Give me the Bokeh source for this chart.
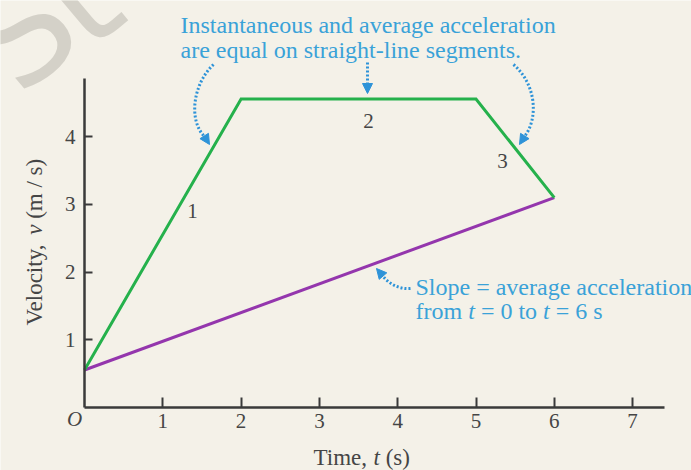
from bokeh.plotting import figure
from bokeh.models import LinearAxis, FixedTicker, Label, Arrow, NormalHead
from bokeh.embed import file_html
from bokeh.resources import INLINE

# ---- data -------------------------------------------------------------
time_s = [0, 2, 5, 6]                 # s
velocity = [0.55, 4.56, 4.56, 3.1]    # m/s
avg_time = [0, 6]
avg_velocity = [0.55, 3.1]
x_ticks = [1, 2, 3, 4, 5, 6, 7]
y_ticks = [1, 2, 3, 4]

# ---- layout / style ---------------------------------------------------
W, H = 691, 470
X0_PX, Y0_PX = 84.0, 406.7      # where the origin sits on the page
PX_PER_S, PX_PER_MS = 78.3, 67.6
BASELINE_FIX = 6.5              # alphabetic baseline lands a bit low in svg

BG = "#f4f1e8"
AXIS = "#3a3a3a"
TXT = "#454545"
GREEN = "#25b14c"
PURPLE = "#9436ad"
BLUE = "#3aa2d8"
DOT = "#2e93d8"
SERIF = "Liberation Serif"


def dx(px):
    return (px - X0_PX) / PX_PER_S


def dy(py):
    return (Y0_PX - py) / PX_PER_MS


p = figure(width=W, height=H,
           x_range=(dx(0), dx(W)), y_range=(dy(H), dy(0)),
           x_axis_type=None, y_axis_type=None,
           toolbar_location=None, output_backend="svg",
           min_border=0, background_fill_color=BG, border_fill_color=BG,
           outline_line_color=None)

# faint watermark letters in the corner
for letter, cx, cy in [("S", 22, 32), ("t", 78, -2)]:
    p.add_layout(Label(x=dx(cx), y=dy(cy), text=letter, angle=40,
                       angle_units="deg", text_align="center",
                       text_baseline="middle",
                       text_font="DejaVu Sans",
                       text_font_size="140px", text_color="#d4d1c8"))

# ---- axes through the origin --------------------------------------------
common = dict(fixed_location=0, major_tick_out=0,
              minor_tick_line_color=None,
              axis_line_color=AXIS, axis_line_width=2.5,
              major_tick_line_color=AXIS, major_tick_line_width=2,
              major_label_text_font=SERIF, major_label_text_font_size="21px",
              major_label_text_color=TXT)
xaxis = LinearAxis(bounds=(0, 7.41), ticker=FixedTicker(ticks=x_ticks),
                   major_tick_in=10, major_label_standoff=7, **common)
yaxis = LinearAxis(bounds=(0, 4.86), ticker=FixedTicker(ticks=y_ticks),
                   major_tick_in=8, major_label_standoff=9, **common)
p.add_layout(xaxis, "below")
p.add_layout(yaxis, "left")


def text_label(text, xp, yp, size, color=TXT, italic=False, align="left",
               angle=0):
    if not angle:
        yp -= BASELINE_FIX
    p.add_layout(Label(x=dx(xp), y=dy(yp), text=text, text_align=align,
                       text_baseline="middle" if angle else "alphabetic",
                       angle=angle, angle_units="deg",
                       text_font=SERIF, text_font_size=f"{size}px",
                       text_font_style="italic" if italic else "normal",
                       text_color=color))


# origin mark
text_label("O", 74, 425, 21, italic=True, align="center")

# axis titles (with italic symbols); widths are in 1/1000 em
def pieces(parts, x_px, y_px, size, vertical=False):
    pos = 0.0
    for text, italic, width in parts:
        if vertical:
            text_label(text, x_px, y_px - pos, size, italic=italic, angle=90)
        else:
            text_label(text, x_px + pos, y_px, size, italic=italic)
        pos += width * size / 1000.0

pieces([("Time,", False, 2611), ("t", True, 528), ("(s)", False, 1055)],
       313, 463.5, 23)
pieces([("Velocity,", False, 3944), ("v", True, 694), ("(m / s)", False, 2611)],
       34, 325, 23, vertical=True)

# ---- data lines ------------------------------------------------------------
p.line(avg_time, avg_velocity, line_color=PURPLE, line_width=3)
p.line(time_s, velocity, line_color=GREEN, line_width=3, line_join="miter")

# segment numbers
for txt, xp, yp in [("1", 192, 216.7), ("2", 368, 126.7), ("3", 502, 166.7)]:
    text_label(txt, xp, yp, 21, align="center")

# ---- callouts ----------------------------------------------------------------
for txt, xp, yp, it in [
    ("Instantaneous and average acceleration", 180, 30.5, False),
    ("are equal on straight-line segments.", 180, 55.5, False),
    ("Slope = average acceleration", 415, 293, False),
    ("from", 415, 316.7, False),
    ("t", 467.7, 316.7, True),
    ("= 0 to", 480.4, 316.7, False),
    ("t", 542.6, 316.7, True),
    ("= 6 s", 555.3, 316.7, False),
]:
    text_label(txt, xp, yp, 24, color=BLUE, italic=it)

# dotted curved pointers: (start, control 0, control 1, end) in page pixels
curves = [
    ((213, 64), (192, 84), (188, 120), (204, 136)),
    ((367, 62), (367, 70), (367, 78), (367, 86)),
    ((513, 64), (536, 84), (538, 118), (524, 136)),
    ((410, 288), (398, 289), (388, 283), (382, 275)),
]
heads = [((204, 136), (209, 144)), ((367, 86), (367, 93)),
         ((524, 136), (519, 144)), ((382, 275), (376, 268))]

p.bezier(x0=[dx(c[0][0]) for c in curves], y0=[dy(c[0][1]) for c in curves],
         cx0=[dx(c[1][0]) for c in curves], cy0=[dy(c[1][1]) for c in curves],
         cx1=[dx(c[2][0]) for c in curves], cy1=[dy(c[2][1]) for c in curves],
         x1=[dx(c[3][0]) for c in curves], y1=[dy(c[3][1]) for c in curves],
         line_color=DOT, line_width=3, line_dash="2 2")

for (sx, sy), (ex, ey) in heads:
    p.add_layout(Arrow(x_start=dx(sx), y_start=dy(sy), x_end=dx(ex), y_end=dy(ey),
                       line_color=None,
                       end=NormalHead(size=10, fill_color=DOT, line_color=DOT,
                                      line_width=1)))

open("out.html", "w").write(file_html(p, INLINE))
